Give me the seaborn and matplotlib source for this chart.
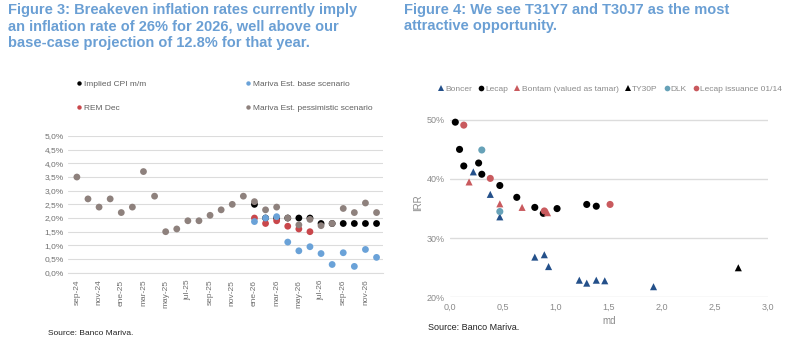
import pandas as pd
import matplotlib.pyplot as plt
import seaborn as sns

# Datos figura 3 (inflacion mensual, %)
meses = ['sep-24', 'oct-24', 'nov-24', 'dic-24', 'ene-25', 'feb-25', 'mar-25', 'abr-25',
         'may-25', 'jun-25', 'jul-25', 'ago-25', 'sep-25', 'oct-25', 'nov-25', 'dic-25',
         'ene-26', 'feb-26', 'mar-26', 'abr-26', 'may-26', 'jun-26', 'jul-26', 'ago-26',
         'sep-26', 'oct-26', 'nov-26', 'dic-26']
pesimista = [3.5, 2.7, 2.4, 2.7, 2.2, 2.4, 3.7, 2.8, 1.5, 1.6, 1.9, 1.9, 2.1, 2.3, 2.5, 2.8,
             2.6, 2.3, 2.4, 2.0, 1.75, 1.95, 1.72, 1.8, 2.35, 2.2, 2.55, 2.2]
meses_2026 = meses[16:]
implicita = [2.5, 2.0, 2.0, 2.0, 2.0, 2.0, 1.8, 1.8, 1.8, 1.8, 1.8, 1.8]
base = [1.87, 2.0, 2.05, 1.12, 0.8, 0.95, 0.7, 0.3, 0.73, 0.23, 0.85, 0.56]
meses_rem = meses[16:22]
rem = [2.0, 1.8, 1.9, 1.7, 1.6, 1.5]
ticks_meses = meses[::2]

# Datos figura 4 (md vs TIR, %)
boncer_md = [0.22, 0.38, 0.47, 0.80, 0.89, 0.93, 1.22, 1.29, 1.38, 1.46, 1.92]
boncer_tir = [41.2, 37.4, 33.6, 26.8, 27.2, 25.2, 22.9, 22.4, 22.9, 22.8, 21.8]
lecap_md = [0.05, 0.09, 0.13, 0.27, 0.30, 0.47, 0.63, 0.80, 0.88, 1.01, 1.29, 1.38]
lecap_tir = [49.6, 45.0, 42.2, 42.7, 40.8, 38.9, 36.9, 35.2, 34.2, 35.0, 35.7, 35.4]
bontam_md = [0.18, 0.47, 0.68, 0.92]
bontam_tir = [39.5, 35.8, 35.2, 34.3]
ty30p_md = [2.72]
ty30p_tir = [25.0]
dlk_md = [0.30, 0.47]
dlk_tir = [44.9, 34.5]
emision_md = [0.13, 0.38, 0.89, 1.51]
emision_tir = [49.1, 40.1, 34.6, 35.7]

sns.set_style('white')
plt.rcParams['font.family'] = ['Liberation Sans', 'DejaVu Sans']

fig = plt.figure(figsize=(8, 3.54), dpi=100)

# Titulos
azul_titulo = '#6A9FD4'
tfont = dict(color=azul_titulo, fontsize=10.5, fontweight='bold')
fig.text(0.01, 0.972, 'Figure 3: Breakeven inflation rates currently imply', va='center', **tfont)
fig.text(0.01, 0.926, 'an inflation rate of 26% for 2026, well above our', va='center', **tfont)
fig.text(0.01, 0.879, 'base-case projection of 12.8% for that year.', va='center', **tfont)
fig.text(0.505, 0.972, 'Figure 4: We see T31Y7 and T30J7 as the most', va='center', **tfont)
fig.text(0.505, 0.926, 'attractive opportunity.', va='center', **tfont)

# ---- Figura 3 ----
ax1 = fig.add_axes([0.085, 0.2297, 0.394, 0.386])
cols = {'Implied CPI m/m': 'black', 'REM Dec': '#C9474B',
        'Mariva Est. base scenario': '#6AA2D8',
        'Mariva Est. pessimistic scenario': '#8E817D'}
df1 = pd.concat([
    pd.DataFrame({'mes': meses_2026, 'v': implicita, 'serie': 'Implied CPI m/m'}),
    pd.DataFrame({'mes': meses_rem, 'v': rem, 'serie': 'REM Dec'}),
    pd.DataFrame({'mes': meses_2026, 'v': base, 'serie': 'Mariva Est. base scenario'}),
    pd.DataFrame({'mes': meses, 'v': pesimista, 'serie': 'Mariva Est. pessimistic scenario'}),
])
df1['mes'] = pd.Categorical(df1['mes'], categories=meses, ordered=True)
df1['x'] = df1['mes'].cat.codes
df1['v'] = df1['v'] / 100
sns.scatterplot(data=df1, x='x', y='v', hue='serie', palette=cols,
                hue_order=list(cols), s=24, linewidth=0, ax=ax1)
ax1.set_xlim(-0.8, len(meses) - 0.4)
ax1.set_ylim(0, 0.05)
ax1.set_yticks([i * 0.005 for i in range(11)])
ax1.set_yticklabels([f'{i * 0.5:.1f}%'.replace('.', ',') for i in range(11)])
ax1.set_xticks(range(0, len(meses), 2))
ax1.set_xticklabels(ticks_meses, rotation=90)
ax1.tick_params(axis='both', labelsize=6, colors='#707070', length=0, pad=3)
ax1.tick_params(axis='x', pad=5)
ax1.grid(axis='y', color='#DCDCDC', linewidth=0.8)
ax1.set_axisbelow(True)
for sp in ax1.spines.values():
    sp.set_visible(False)
ax1.spines['bottom'].set_visible(True)
ax1.spines['bottom'].set_color('#DCDCDC')
ax1.set_xlabel('')
ax1.set_ylabel('')
h, l = ax1.get_legend_handles_labels()
ax1.legend(h, l, ncol=2, loc='lower left', bbox_to_anchor=(0.01, 1.15), frameon=False,
           fontsize=6, labelcolor='#606060', handletextpad=0.0, markerscale=0.65,
           columnspacing=11.5, labelspacing=2.0, borderaxespad=0, handlelength=1.2)
fig.text(0.06, 0.053, 'Source: Banco Mariva.', fontsize=6, color='#222222')

# ---- Figura 4 ----
ax2 = fig.add_axes([0.5625, 0.160, 0.3975, 0.535])
nombres = ['Boncer', 'Lecap', 'Bontam (valued as tamar)', 'TY30P', 'DLK', 'Lecap issuance 01/14']
pal = {'Boncer': '#24508A', 'Lecap': 'black', 'Bontam (valued as tamar)': '#C95A5E',
       'TY30P': 'black', 'DLK': '#67A2B8', 'Lecap issuance 01/14': '#C95A5E'}
mk = {'Boncer': '^', 'Lecap': 'o', 'Bontam (valued as tamar)': '^', 'TY30P': '^',
      'DLK': 'o', 'Lecap issuance 01/14': 'o'}
df2 = pd.concat([
    pd.DataFrame({'md': boncer_md, 'irr': boncer_tir, 'bono': 'Boncer'}),
    pd.DataFrame({'md': lecap_md, 'irr': lecap_tir, 'bono': 'Lecap'}),
    pd.DataFrame({'md': bontam_md, 'irr': bontam_tir, 'bono': 'Bontam (valued as tamar)'}),
    pd.DataFrame({'md': ty30p_md, 'irr': ty30p_tir, 'bono': 'TY30P'}),
    pd.DataFrame({'md': dlk_md, 'irr': dlk_tir, 'bono': 'DLK'}),
    pd.DataFrame({'md': emision_md, 'irr': emision_tir, 'bono': 'Lecap issuance 01/14'}),
])
df2['irr'] = df2['irr'] / 100
sns.scatterplot(data=df2, x='md', y='irr', hue='bono', style='bono', hue_order=nombres,
                style_order=nombres, palette=pal, markers=mk, s=26, linewidth=0, ax=ax2)
ax2.set_xlim(0, 3.0)
ax2.set_ylim(0.2, 0.52)
ax2.set_yticks([0.2, 0.3, 0.4, 0.5])
ax2.set_yticklabels(['20%', '30%', '40%', '50%'])
ax2.set_xticks([i * 0.5 for i in range(7)])
ax2.set_xticklabels([f'{i * 0.5:.1f}'.replace('.', ',') for i in range(7)])
ax2.tick_params(axis='both', labelsize=6.5, colors='#8A8A8A', length=0, pad=4)
ax2.grid(axis='y', color='#DCDCDC', linewidth=1)
ax2.set_axisbelow(True)
for sp in ax2.spines.values():
    sp.set_visible(False)
ax2.set_xlabel('md', fontsize=7, color='#8A8A8A', labelpad=3)
ax2.set_ylabel('IRR', fontsize=7, color='#8A8A8A', labelpad=2)
h, l = ax2.get_legend_handles_labels()
ax2.legend(h, l, ncol=6, loc='lower center', bbox_to_anchor=(0.50, 1.06), frameon=False,
           fontsize=6, labelcolor='#8A8A8A', handletextpad=-0.1, columnspacing=0.5,
           markerscale=0.8, borderaxespad=0, handlelength=1.2)
fig.text(0.535, 0.068, 'Source: Banco Mariva.', fontsize=6.5, color='#222222')

fig.savefig('out.png', dpi=100)
